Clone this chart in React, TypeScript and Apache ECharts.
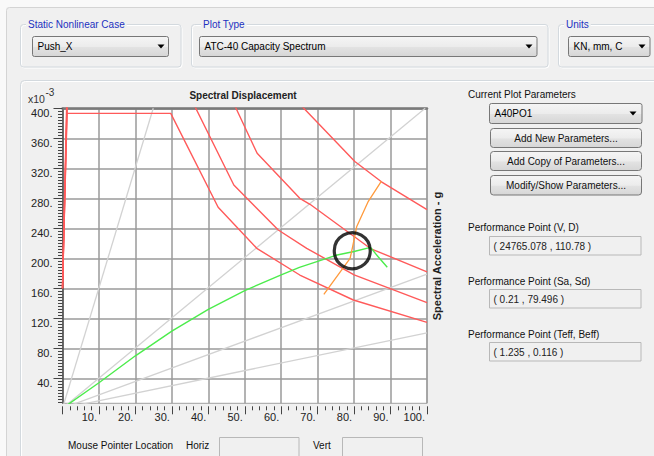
import React, { useEffect, useRef } from "react";
import * as echarts from "echarts";

// ---------------- data (Sd in mm, Sa in 10^-3 g) ----------------
const xTickLabels = [10, 20, 30, 40, 50, 60, 70, 80, 90, 100];
const yTickLabels = [40, 80, 120, 160, 200, 240, 280, 320, 360, 400];
const yMinorStep = 4;

// radial period lines (T = 0.5, 1.0, 1.5, 2.0 s)
const periodLine05 = [[0, 0], [24.9, 400]];
const periodLine10 = [[0, 0], [99.5, 400]];
const periodLine15 = [[0, 0], [100, 179]];
const periodLine20 = [[0, 0], [100, 100.5]];

// demand spectra family
const demandA = [[0, 160], [1.2, 393.3], [29.7, 393.3], [42.7, 268], [53.3, 213.3], [65.1, 177.7], [79.8, 144.4], [100, 114.5]];
const demandB = [[0, 160], [1.3, 440], [32.5, 440], [47.0, 297.7], [59.2, 237.7], [67.0, 213.3], [80.0, 178], [100, 141]];
const demandC = [[0, 160], [1.4, 440], [43.7, 440], [47.6, 400], [53.4, 340], [65.1, 280], [67.9, 272], [84.5, 213], [100, 182]];
const demandD = [[0, 160], [1.5, 440], [58.5, 440], [66.2, 400], [80.2, 329], [87.5, 302], [100, 265]];

// capacity curve
const capacityCurve = [[0, 0], [10, 34], [20, 70], [30, 103], [40, 132], [50, 157], [60, 178], [65, 188], [70, 196], [75, 204], [80, 209], [84.5, 214.5], [86.6, 202], [89.1, 188]];

// single demand spectrum (locus of performance points)
const singleDemand = [[71.7, 152], [78.9, 200], [79.6, 215.5], [80.7, 242], [83.9, 276], [87.5, 303]];

// performance point results
const perfVD = [24765.078, 110.78];
const perfSaSd = [0.21, 79.496];
const perfTeffBeff = [1.235, 0.116];

// ---------------- styling helpers ----------------
const FONT = "'Liberation Sans', Arial, sans-serif";

function txt(x: number, y: number, text: string, o: any = {}) {
  return {
    type: "text",
    x,
    y,
    rotation: o.rot || 0,
    silent: true,
    z: 100,
    style: {
      text,
      fill: o.fill || "#111",
      fontSize: o.size || 10,
      fontFamily: FONT,
      fontWeight: o.weight || "normal",
      align: o.align || "left",
      verticalAlign: "middle",
      backgroundColor: o.bg,
      padding: o.pad,
    },
  };
}

function grad() {
  return new echarts.graphic.LinearGradient(0, 0, 0, 1, [
    { offset: 0, color: "#f5f5f5" },
    { offset: 0.5, color: "#ececec" },
    { offset: 0.55, color: "#e2e2e2" },
    { offset: 1, color: "#d6d6d6" },
  ]);
}

function dropdown(x: number, y: number, w: number, h: number, label: string, arrowX: number) {
  const cy = y + h / 2;
  return [
    { type: "rect", silent: true, z: 90, shape: { x, y, width: w, height: h, r: 2 }, style: { fill: grad(), stroke: "#777", lineWidth: 1 } },
    txt(x + 5, cy, label, { fill: "#000" }),
    { type: "polygon", silent: true, z: 100, shape: { points: [[arrowX - 3.5, cy - 2], [arrowX + 3.5, cy - 2], [arrowX, cy + 2]] }, style: { fill: "#000" } },
  ];
}

function button(x: number, y: number, w: number, h: number, label: string) {
  return [
    { type: "rect", silent: true, z: 90, shape: { x, y, width: w, height: h, r: 3 }, style: { fill: grad(), stroke: "#777", lineWidth: 1 } },
    txt(x + w / 2, y + h / 2, label, { fill: "#111", align: "center" }),
  ];
}

function groupBox(x: number, y: number, w: number, h: number, title: string, titleX: number) {
  return [
    { type: "rect", silent: true, z: 80, shape: { x: x + 1, y: y + 1, width: w, height: h, r: 3 }, style: { fill: "none", stroke: "#ffffff", lineWidth: 1 } },
    { type: "rect", silent: true, z: 81, shape: { x, y, width: w, height: h, r: 3 }, style: { fill: "none", stroke: "#d3d9de", lineWidth: 1 } },
    txt(titleX, y, title, { fill: "#2231c0", bg: "#f0f0f0", pad: [0, 2] }),
  ];
}

function field(x: number, y: number, w: number, h: number, value?: string) {
  const out: any[] = [
    { type: "rect", silent: true, z: 90, shape: { x, y, width: w, height: h }, style: { fill: "#f0f0f0", stroke: "#b8b8b8", lineWidth: 1 } },
  ];
  if (value) out.push(txt(x + 4, y + h / 2 + 0.5, value, { fill: "#222" }));
  return out;
}

function buildOption() {
  const yMinorTicks: number[] = [];
  for (let v = 8; v < 400; v += yMinorStep) if (v % 40 !== 0) yMinorTicks.push(v);

  const line = (name: string, data: number[][], color: string, width: number, z: number) => ({
    name,
    type: "line",
    data,
    showSymbol: false,
    symbol: "none",
    silent: true,
    clip: true,
    z,
    lineStyle: { color, width },
    itemStyle: { color },
  });

  const fmt = (v: number) => `${v}.`;

  const graphic: any[] = [
    { type: "rect", silent: true, z: 1, shape: { x: 0, y: 0, width: 654, height: 7.5 }, style: { fill: "#f9f9f9" } },
    { type: "rect", silent: true, z: 1, shape: { x: 0, y: 0, width: 6.5, height: 456 }, style: { fill: "#f9f9f9" } },
    { type: "rect", silent: true, z: 2, shape: { x: 6.5, y: 7.5, width: 700, height: 500, r: 3 }, style: { fill: "none", stroke: "#d4d4d4", lineWidth: 1 } },
    ...groupBox(20.5, 24.5, 160.5, 42.5, "Static Nonlinear Case", 26),
    ...groupBox(191.5, 24.5, 356.5, 42.5, "Plot Type", 201),
    ...groupBox(558.5, 24.5, 120, 42.5, "Units", 564),
    ...dropdown(32.5, 36.5, 136, 20, "Push_X", 161),
    ...dropdown(199.5, 36.5, 337.5, 20, "ATC-40 Capacity Spectrum", 529),
    ...dropdown(568.5, 36.5, 81.5, 20, "KN, mm, C", 642),
    // plot panel
    { type: "rect", silent: true, z: 80, shape: { x: 21.5, y: 81.5, width: 700, height: 500, r: 4 }, style: { fill: "none", stroke: "#ffffff", lineWidth: 1 } },
    { type: "rect", silent: true, z: 81, shape: { x: 20.5, y: 80.5, width: 700, height: 500, r: 4 }, style: { fill: "none", stroke: "#d3d9de", lineWidth: 1 } },
    // chart titles
    txt(28, 98.5, "x10", { size: 10.5, fill: "#333" }),
    txt(45.5, 92.5, "-3", { size: 10, fill: "#333" }),
    txt(243, 95.5, "Spectral Displacement", { weight: "bold", align: "center", fill: "#222" }),
    txt(437, 256, "Spectral Acceleration - g", { weight: "bold", size: 11, align: "center", fill: "#222", rot: Math.PI / 2 }),
    // right panel
    txt(468, 94, "Current Plot Parameters", { fill: "#111" }),
    ...dropdown(489.5, 103.5, 152.5, 20, "A40PO1", 633),
    ...button(490.5, 128.5, 151, 19, "Add New Parameters..."),
    ...button(490.5, 151.5, 151, 19, "Add Copy of Parameters..."),
    ...button(490.5, 175.5, 151, 19.5, "Modify/Show Parameters..."),
    txt(468, 227.5, "Performance Point (V, D)", { fill: "#111" }),
    ...field(489.5, 236.5, 151.5, 18.5, `( ${perfVD[0]} , ${perfVD[1]} )`),
    txt(468, 281, "Performance Point (Sa, Sd)", { fill: "#111" }),
    ...field(489.5, 289.5, 151.5, 18.5, `( ${perfSaSd[0]} , ${perfSaSd[1]} )`),
    txt(468, 334.5, "Performance Point (Teff, Beff)", { fill: "#111" }),
    ...field(489.5, 342.5, 151.5, 18.5, `( ${perfTeffBeff[0]} , ${perfTeffBeff[1]} )`),
    // bottom row
    txt(68, 445, "Mouse Pointer Location", { fill: "#111" }),
    txt(186, 445, "Horiz", { fill: "#111" }),
    ...field(219.5, 437.5, 79.5, 24),
    txt(313, 445, "Vert", { fill: "#111" }),
    ...field(342.5, 437.5, 80, 24),
  ];

  return {
    animation: false,
    backgroundColor: "transparent",
    grid: {
      left: 62.5,
      top: 108.3,
      width: 364.5,
      height: 295,
      show: true,
      backgroundColor: "#ffffff",
      borderColor: "#a0a0a0",
      borderWidth: 1,
      containLabel: false,
      outerBoundsMode: "none",
    },
    xAxis: [
      {
        type: "value",
        min: 0,
        max: 100,
        interval: 10,
        position: "bottom",
        offset: 3,
        axisLine: { show: false, onZero: false },
        axisTick: { show: true, length: 8, lineStyle: { color: "#444", width: 1 } },
        minorTick: { show: true, splitNumber: 5, length: 4, lineStyle: { color: "#444", width: 1 } },
        minorSplitLine: { show: false },
        axisLabel: {
          showMinLabel: false,
          formatter: fmt,
          align: "right",
          margin: 5,
          padding: [0, 2, 0, 0],
          fontSize: 11,
          fontFamily: FONT,
          color: "#222",
        },
        splitLine: { show: true, lineStyle: { color: "#9a9a9a", width: 1.5 } },
      },
      {
        type: "value",
        min: 0,
        max: 100,
        position: "top",
        axisLine: { show: true, onZero: false, lineStyle: { color: "#7a7a7a", width: 2.5 } },
        axisTick: { show: false },
        axisLabel: { show: false },
        splitLine: { show: false },
      },
    ],
    yAxis: [
      {
        type: "value",
        min: 20 / 3,
        max: 400,
        position: "left",
        axisLine: { show: true, onZero: false, lineStyle: { color: "#555", width: 1.5 } },
        axisTick: { show: true, customValues: yTickLabels, length: 9, lineStyle: { color: "#444", width: 1 } },
        axisLabel: {
          customValues: yTickLabels,
          formatter: fmt,
          margin: 10,
          verticalAlign: "top",
          lineHeight: 9,
          fontSize: 11,
          fontFamily: FONT,
          color: "#222",
        },
        splitLine: { show: true, lineStyle: { color: "#9a9a9a", width: 1.5 } },
      },
      {
        type: "value",
        min: 20 / 3,
        max: 400,
        position: "left",
        axisLine: { show: false, onZero: false },
        axisTick: { show: true, customValues: yMinorTicks, length: 4.5, lineStyle: { color: "#444", width: 1 } },
        axisLabel: { show: false },
        splitLine: { show: false },
      },
    ],
    series: [
      line("T=0.5", periodLine05, "#d2d2d2", 1.3, 3),
      line("T=1.0", periodLine10, "#d2d2d2", 1.3, 3),
      line("T=1.5", periodLine15, "#d2d2d2", 1.3, 3),
      line("T=2.0", periodLine20, "#d2d2d2", 1.3, 3),
      line("Demand A", demandA, "#ff5a5a", 1.4, 4),
      line("Demand B", demandB, "#ff5a5a", 1.4, 4),
      line("Demand C", demandC, "#ff5a5a", 1.4, 4),
      line("Demand D", demandD, "#ff5a5a", 1.4, 4),
      line("Capacity", capacityCurve, "#4cec4c", 1.4, 5),
      line("Single Demand", singleDemand, "#ff9a3c", 1.3, 6),
      {
        name: "Performance Point",
        type: "scatter",
        data: [[perfSaSd[1], perfSaSd[0] * 1000]],
        symbol: "circle",
        symbolSize: 36,
        silent: true,
        z: 7,
        itemStyle: { color: "rgba(0,0,0,0)", borderColor: "#000", borderWidth: 3.2 },
      },
    ],
    graphic,
  };
}

export default function App() {
  const ref = useRef<HTMLDivElement>(null);
  useEffect(() => {
    document.body.style.margin = "0";
    const chart = echarts.init(ref.current!, undefined, { renderer: "svg" });
    chart.setOption(buildOption() as any);
    return () => chart.dispose();
  }, []);
  return (
    <div
      ref={ref}
      style={{ position: "fixed", left: 0, top: 0, width: 654, height: 456, background: "#f0f0f0", overflow: "hidden" }}
    />
  );
}
